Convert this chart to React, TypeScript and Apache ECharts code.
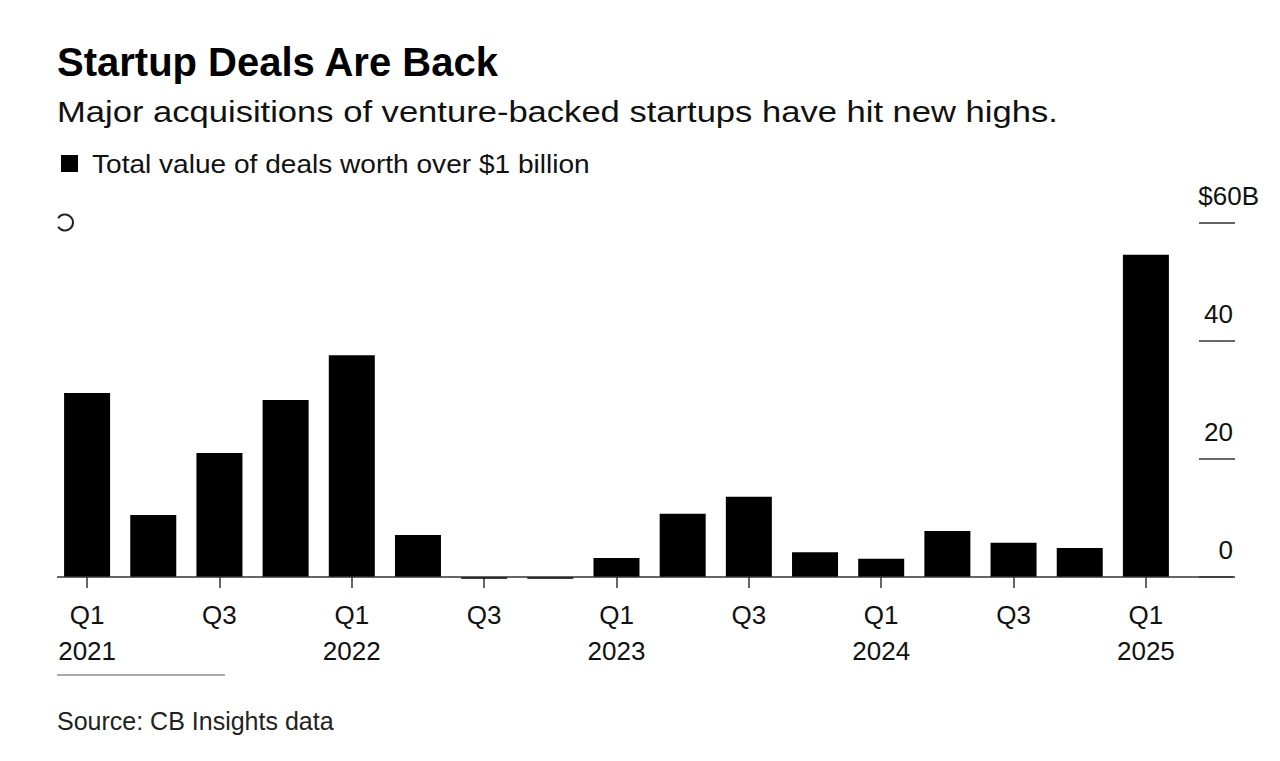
import React, { useEffect, useRef } from "react";
import * as echarts from "echarts";

const categories = [
  "Q1\n2021", "Q2", "Q3", "Q4",
  "Q1\n2022", "Q2", "Q3", "Q4",
  "Q1\n2023", "Q2", "Q3", "Q4",
  "Q1\n2024", "Q2", "Q3", "Q4",
  "Q1\n2025",
];
const dealValues = [31.2, 10.5, 21.0, 30.0, 37.6, 7.1, -0.3, -0.3, 3.2, 10.7, 13.6, 4.2, 3.1, 7.8, 5.8, 4.9, 54.6];
const yTicks = [0, 20, 40, 60];
const seriesName = "Total value of deals worth over $1 billion";
const titleText = "Startup Deals Are Back";
const subtitleText = "Major acquisitions of venture-backed startups have hit new highs.";
const sourceText = "Source: CB Insights data";

const FONT = "'Liberation Sans', Arial, Helvetica, sans-serif";

export default function App() {
  const ref = useRef<HTMLDivElement>(null);
  useEffect(() => {
    if (!ref.current) return;
    const chart = echarts.init(ref.current, null, { renderer: "svg" });
    const option: any = {
      animation: false,
      backgroundColor: "#ffffff",
      textStyle: { fontFamily: FONT },
      title: {
        text: titleText,
        left: 57,
        top: 42,
        padding: 0,
        textStyle: { fontSize: 40, lineHeight: 40, fontWeight: "bold", color: "#000", fontFamily: FONT },
      },
      grid: { left: 54, right: 101, top: 223, bottom: 184, containLabel: false },
      xAxis: {
        type: "category",
        data: categories,
        boundaryGap: true,
        axisLine: { show: false },
        axisTick: { show: true, alignWithLabel: true, interval: 1, length: 11, lineStyle: { color: "#333", width: 1.5 } },
        axisLabel: {
          interval: 1,
          margin: 20,
          fontSize: 26,
          lineHeight: 36,
          color: "#111",
          fontFamily: FONT,
        },
      },
      yAxis: {
        type: "value",
        position: "right",
        offset: 20,
        min: 0,
        max: 60,
        interval: 20,
        axisLine: { show: false },
        splitLine: { show: false },
        axisTick: { show: true, length: 36, lineStyle: { color: "#333", width: 1.5 } },
        axisLabel: {
          margin: 60,
          align: "right",
          verticalAlign: "bottom",
          padding: [0, 0, 14, 0],
          fontSize: 26,
          lineHeight: 26,
          color: "#111",
          fontFamily: FONT,
          formatter: (v: number) => (v === yTicks[3] ? "{t|$" + v + "B}" : "{n|" + v + "}"),
          rich: {
            t: { fontSize: 26, lineHeight: 26, color: "#111", fontFamily: FONT },
            n: { fontSize: 26, lineHeight: 26, color: "#111", fontFamily: FONT, padding: [0, 26, 0, 0] },
          },
        },
      },
      series: [
        {
          name: seriesName,
          type: "bar",
          data: dealValues,
          barWidth: 46,
          clip: false,
          itemStyle: { color: "#000" },
        },
      ],
    };
    chart.setOption(option);
    const y0 = chart.convertToPixel({ yAxisIndex: 0 }, 0) as number;
    chart.setOption({
      graphic: [
        {
          type: "text",
          x: 57,
          y: 112,
          scaleX: 1.152,
          style: { text: subtitleText, x: 0, y: 0, verticalAlign: "middle", fontSize: 30, fontFamily: FONT, fill: "#111" },
        },
        {
          type: "rect",
          shape: { x: 61, y: 155, width: 17, height: 17 },
          style: { fill: "#000" },
        },
        {
          type: "text",
          x: 92,
          y: 164,
          scaleX: 1.08,
          style: { text: seriesName, x: 0, y: 0, verticalAlign: "middle", fontSize: 26, fontFamily: FONT, fill: "#111" },
        },
        {
          type: "text",
          x: 57,
          y: 721,
          style: { text: sourceText, x: 0, y: 0, verticalAlign: "middle", fontSize: 25, fontFamily: FONT, fill: "#222" },
        },
        {
          type: "line",
          shape: { x1: 57, y1: y0, x2: 1233, y2: y0 },
          style: { stroke: "#333", lineWidth: 1.5 },
          z: 10,
        },
        {
          type: "line",
          shape: { x1: 57, y1: 675, x2: 225, y2: 675 },
          style: { stroke: "#555", lineWidth: 1 },
        },
        {
          type: "arc",
          shape: { cx: 65, cy: 222.5, r: 8, startAngle: Math.PI + 0.55, endAngle: Math.PI - 0.55 + 2 * Math.PI, clockwise: true },
          style: { stroke: "#222", lineWidth: 2, fill: "none" },
        },
      ],
    });
    return () => chart.dispose();
  }, []);
  return (
    <div
      ref={ref}
      style={{ position: "fixed", left: 0, top: 0, width: 1280, height: 761 }}
    />
  );
}
